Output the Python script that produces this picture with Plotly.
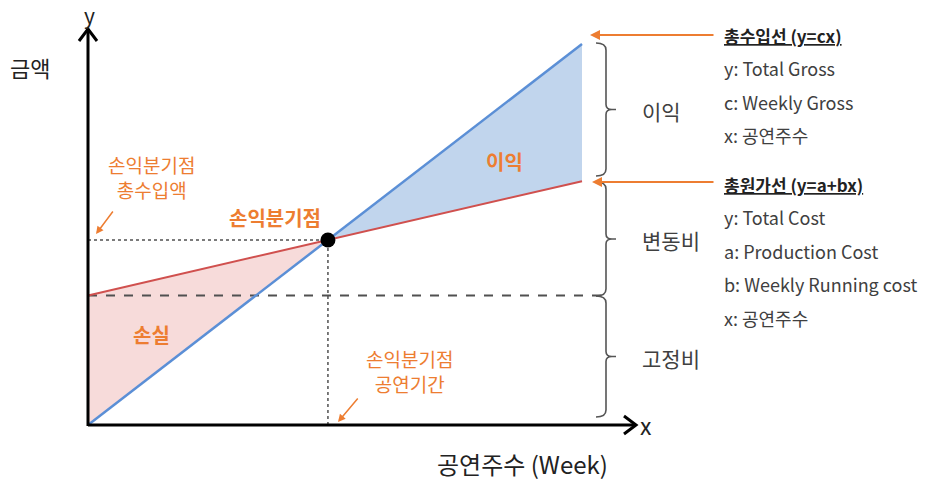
import plotly.graph_objects as go

# Break-even model (abstract units): cost y = a + b*x, revenue y = c*x
weeks = [0, 10]
production_cost = 34      # a : fixed cost
weekly_running = 3.0      # b : variable cost per week
weekly_gross = 10.0       # c : revenue per week

revenue = [weekly_gross * w for w in weeks]
total_cost = [production_cost + weekly_running * w for w in weeks]
be_week = production_cost / (weekly_gross - weekly_running)
be_amount = weekly_gross * be_week

legend_gross = ["y: Total Gross", "c: Weekly Gross", "x: 공연주수"]
legend_cost = ["y: Total Cost", "a: Production Cost", "b: Weekly Running cost", "x: 공연주수"]
brace_labels = ["이익", "변동비", "고정비"]

W, H = 926, 480
X0, Y0 = 88, 425          # origin on the canvas
SX, SY = 49.4, 3.81       # canvas pixels per data unit

FONT = "Noto Sans CJK KR"
ORANGE = "#ED7D31"
BLUE = "#5B8FD6"
RED = "#D0504E"
GREY = "#404040"

fig = go.Figure()

# loss region (between cost and revenue before break-even)
fig.add_trace(go.Scatter(
    x=[weeks[0], be_week, weeks[0], weeks[0]],
    y=[total_cost[0], be_amount, revenue[0], total_cost[0]],
    fill="toself", fillcolor="rgba(240,190,188,0.55)", mode="none",
    hoverinfo="skip"))
# profit region (after break-even)
fig.add_trace(go.Scatter(
    x=[be_week, weeks[1], weeks[1], be_week],
    y=[be_amount, revenue[1], total_cost[1], be_amount],
    fill="toself", fillcolor="rgba(160,190,228,0.65)", mode="none",
    hoverinfo="skip"))

# fixed-cost level
fig.add_trace(go.Scatter(x=[0, 10.49], y=[production_cost] * 2, mode="lines",
                         line=dict(color="#505050", width=2, dash="dash"), hoverinfo="skip"))
# guides to the break-even point
fig.add_trace(go.Scatter(x=[0, be_week], y=[be_amount] * 2, mode="lines",
                         line=dict(color="#505050", width=1.5, dash="dot"), hoverinfo="skip"))
fig.add_trace(go.Scatter(x=[be_week] * 2, y=[0, be_amount], mode="lines",
                         line=dict(color="#505050", width=1.5, dash="dot"), hoverinfo="skip"))

# revenue and cost lines
fig.add_trace(go.Scatter(x=weeks, y=total_cost, mode="lines",
                         line=dict(color=RED, width=2), hoverinfo="skip"))
fig.add_trace(go.Scatter(x=weeks, y=revenue, mode="lines",
                         line=dict(color=BLUE, width=2.5), hoverinfo="skip"))
fig.add_trace(go.Scatter(x=[be_week], y=[be_amount], mode="markers",
                         marker=dict(color="black", size=15), hoverinfo="skip"))

# axes with chevron arrowheads (canvas coordinates)
axis_style = dict(color="black", width=3)
fig.add_trace(go.Scatter(x=[X0, 636], y=[Y0, Y0], mode="lines", line=axis_style,
                         xaxis="x2", yaxis="y2", hoverinfo="skip"))
fig.add_trace(go.Scatter(x=[X0, X0], y=[Y0 + 1, 29], mode="lines", line=axis_style,
                         xaxis="x2", yaxis="y2", hoverinfo="skip"))
fig.add_trace(go.Scatter(x=[624, 636, 624], y=[416, Y0, 434], mode="lines", line=axis_style,
                         xaxis="x2", yaxis="y2", hoverinfo="skip"))
fig.add_trace(go.Scatter(x=[79, X0, 97], y=[41, 29, 41], mode="lines", line=axis_style,
                         xaxis="x2", yaxis="y2", hoverinfo="skip"))

shapes = []


def brace(top, bottom):
    mid = (top + bottom) / 2
    return dict(
        type="path", xref="x2", yref="y2", layer="above",
        line=dict(color="#555555", width=1.6),
        path=(f"M 596 {top} Q 606 {top} 606 {top + 7} L 606 {mid - 5} "
              f"Q 606 {mid} 612 {mid} L 616 {mid} M 612 {mid} Q 606 {mid} 606 {mid + 5} "
              f"L 606 {bottom - 7} Q 606 {bottom} 596 {bottom}"))


brace_spans = [(43, 176), (182, 296), (296, 417)]
for t, b in brace_spans:
    shapes.append(brace(t, b))

annotations = []


def text(x, y, s, size=16, color=GREY, anchor="center", bold=False):
    annotations.append(dict(
        x=x, y=y, xref="x2", yref="y2", text=f"<b>{s}</b>" if bold else s,
        showarrow=False, xanchor=anchor, yanchor="middle",
        font=dict(family=FONT, size=size, color=color)))


def arrow(x1, y1, x2, y2, width=2):
    annotations.append(dict(
        x=x2, y=y2, ax=x1, ay=y1, xref="x2", yref="y2", axref="x2", ayref="y2",
        text="", showarrow=True, arrowhead=2, arrowsize=1, arrowwidth=width,
        arrowcolor=ORANGE))


# axis titles
text(89, 15, "y", size=21, color="#222222")
text(646, 425, "x", size=23, color="#222222")
text(30, 67, "금액", size=22, color="#222222")
text(522, 463, "공연주수 (Week)", size=24, color="#222222")

# annotations on the plot
text(151, 177, "손익분기점<br>총수입액", size=19, color=ORANGE)
arrow(114, 210, 96, 234, width=1.5)
text(409, 371, "손익분기점<br>공연기간", size=19, color=ORANGE)
arrow(359, 397, 338, 422, width=1.5)
text(275, 217, "손익분기점", size=20, color=ORANGE, bold=True)
text(504, 161, "이익", size=20, color=ORANGE, bold=True)
text(151, 334, "손실", size=20, color=ORANGE, bold=True)

# brace labels
for (t, b), lab in zip(brace_spans, brace_labels):
    text(640, (t + b) / 2 + 1, lab, size=21, anchor="left")

# line definitions on the right
arrow(715, 35, 590, 35)
arrow(715, 182, 592, 182)
text(722, 35, "<u>총수입선 (y=cx)</u>", size=17, color="#222222", anchor="left", bold=True)
for i, s in enumerate(legend_gross):
    text(722, 68 + i * 33.5, s, size=18, anchor="left")
text(722, 184, "<u>총원가선 (y=a+bx)</u>", size=17, color="#222222", anchor="left", bold=True)
for i, s in enumerate(legend_cost):
    text(722, 217 + i * 33.7, s, size=18, anchor="left")

hidden = dict(visible=False, showgrid=False, zeroline=False, fixedrange=True)
fig.update_layout(
    width=W, height=H, margin=dict(l=0, r=0, t=0, b=0),
    paper_bgcolor="white", plot_bgcolor="white", showlegend=False,
    xaxis=dict(range=[-X0 / SX, (W - X0) / SX], **hidden),
    yaxis=dict(range=[(Y0 - H) / SY, Y0 / SY], **hidden),
    xaxis2=dict(range=[0, W], overlaying="x", **hidden),
    yaxis2=dict(range=[H, 0], overlaying="y", **hidden),
    shapes=shapes, annotations=annotations,
)

fig.write_html("out.html")
